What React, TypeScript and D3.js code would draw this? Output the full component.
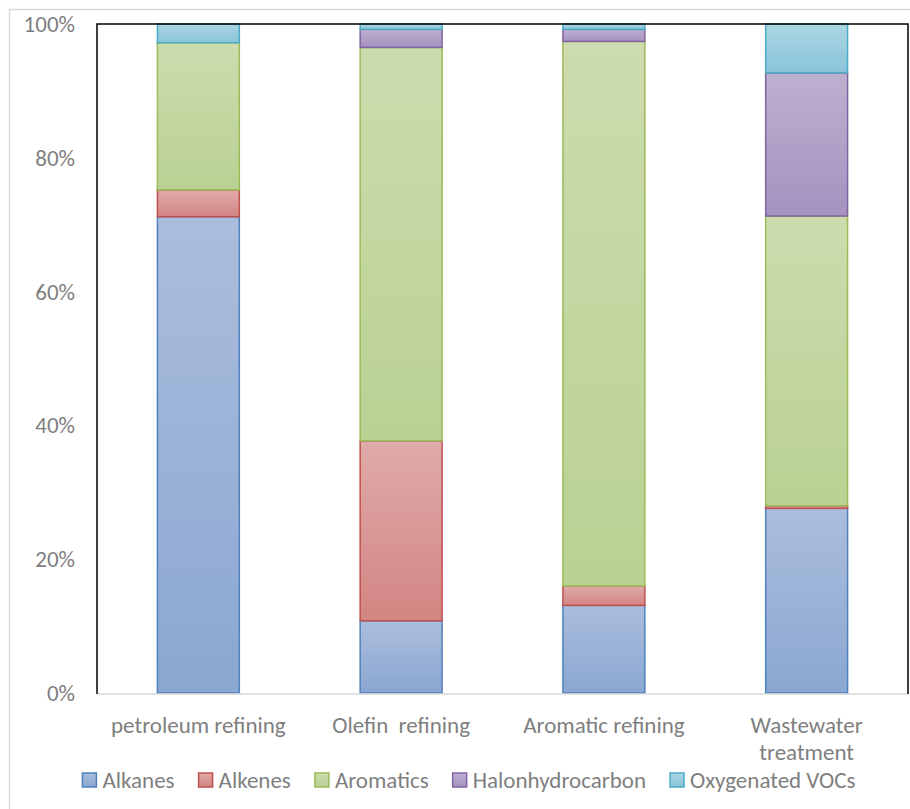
import React, { useEffect, useRef } from "react";
import * as d3 from "d3";

const categories = ["petroleum refining", "Olefin  refining", "Aromatic refining", "Wastewater\ntreatment"];
const seriesNames = ["Alkanes", "Alkenes", "Aromatics", "Halonhydrocarbon", "Oxygenated VOCs"];
const alkanes = [71.2, 10.8, 13.1, 27.6];
const alkenes = [4.0, 26.9, 2.9, 0.4];
const aromatics = [22.0, 58.8, 81.4, 43.3];
const halonhydrocarbon = [0, 2.7, 1.8, 21.4];
const oxygenatedVOCs = [2.8, 0.8, 0.8, 7.3];
const yTicks = [0, 0.2, 0.4, 0.6, 0.8, 1];

const strokes = ["#4f81bd", "#c0504d", "#9bbb59", "#8064a2", "#4bacc6"];
const gradTop = ["#abbddc", "#dfabaa", "#cddcae", "#bdb0cf", "#abd5e3"];
const gradBottom = ["#8aa7d2", "#d38583", "#b9d193", "#a592c0", "#89c4d9"];

const FONT = "Carlito, Calibri, Lato, sans-serif";
const FS = 23;
const TEXT = "#7f7f7f";

const App: React.FC = () => {
  const svgRef = useRef<SVGSVGElement | null>(null);

  useEffect(() => {
    document.body.style.margin = "0";
    const width = 910;
    const height = 809;
    const margin = { top: 24, right: 2, bottom: 116, left: 97 };

    d3.select(svgRef.current).selectAll("*").remove();
    const svg = d3.select(svgRef.current).attr("width", width).attr("height", height);

    svg.append("rect").attr("width", width).attr("height", height).attr("fill", "#fff");
    // outer chart border
    svg
      .append("rect")
      .attr("x", 9.5)
      .attr("y", 9.5)
      .attr("width", width + 20)
      .attr("height", height + 20)
      .attr("fill", "none")
      .attr("stroke", "#d9d9d9")
      .attr("stroke-width", 1.5);

    const defs = svg.append("defs");
    seriesNames.forEach((_, i) => {
      const g = defs
        .append("linearGradient")
        .attr("id", `grad${i}`)
        .attr("x1", 0)
        .attr("y1", 0)
        .attr("x2", 0)
        .attr("y2", 1);
      g.append("stop").attr("offset", "0%").attr("stop-color", gradTop[i]);
      g.append("stop").attr("offset", "100%").attr("stop-color", gradBottom[i]);
    });

    const rows = categories.map((c, i) => ({
      category: c,
      s0: alkanes[i],
      s1: alkenes[i],
      s2: aromatics[i],
      s3: halonhydrocarbon[i],
      s4: oxygenatedVOCs[i],
    }));
    const keys = ["s0", "s1", "s2", "s3", "s4"];
    const stacked = d3.stack<any>().keys(keys).offset(d3.stackOffsetExpand)(rows);

    const x = d3
      .scaleBand()
      .domain(categories)
      .range([margin.left, width - margin.right])
      .paddingInner(0.596)
      .paddingOuter(0.298);
    const y = d3
      .scaleLinear()
      .domain([0, 1])
      .range([height - margin.bottom, margin.top]);

    // bars
    stacked.forEach((layer, i) => {
      svg
        .append("g")
        .selectAll("rect")
        .data(layer.filter((d) => d[1] - d[0] > 0))
        .join("rect")
        .attr("x", (d) => x(d.data.category)!)
        .attr("width", x.bandwidth())
        .attr("y", (d) => y(d[1]))
        .attr("height", (d) => y(d[0]) - y(d[1]))
        .attr("fill", `url(#grad${i})`)
        .attr("stroke", strokes[i])
        .attr("stroke-width", 1.5);
    });

    // plot frame
    const x0 = margin.left;
    const x1 = width - margin.right;
    const yTop = y(1);
    const yBot = y(0);
    svg
      .append("line")
      .attr("x1", x0)
      .attr("x2", x1)
      .attr("y1", yBot + 1)
      .attr("y2", yBot + 1)
      .attr("stroke", "#d9d9d9")
      .attr("stroke-width", 1.5);
    svg
      .append("path")
      .attr("d", `M${x0},${yBot + 1}V${yTop}H${x1}V${yBot + 1}`)
      .attr("fill", "none")
      .attr("stroke", "#000")
      .attr("stroke-width", 1.5);

    // y axis labels
    svg
      .append("g")
      .selectAll("text")
      .data(yTicks)
      .join("text")
      .attr("x", 75)
      .attr("y", (d) => y(d))
      .attr("dy", "0.35em")
      .attr("text-anchor", "end")
      .attr("font-family", FONT)
      .attr("font-size", FS)
      .attr("fill", TEXT)
      .text((d) => d3.format(".0%")(d));

    // category labels
    const cat = svg
      .append("g")
      .selectAll("text")
      .data(categories)
      .join("text")
      .attr("x", (d) => x(d)! + x.bandwidth() / 2)
      .attr("y", yBot + 40)
      .attr("text-anchor", "middle")
      .attr("font-family", FONT)
      .attr("font-size", FS)
      .attr("fill", TEXT)
      .style("white-space", "pre");
    cat.each(function (d) {
      const t = d3.select(this);
      d.split("\n").forEach((line, k) => {
        t.append("tspan")
          .attr("x", x(d)! + x.bandwidth() / 2)
          .attr("dy", k === 0 ? 0 : 27)
          .text(line);
      });
    });

    // legend
    const legend = svg.append("g");
    const items = seriesNames.map((name, i) => {
      const g = legend.append("g");
      g.append("rect")
        .attr("width", 14)
        .attr("height", 14)
        .attr("y", -7)
        .attr("fill", `url(#grad${i})`)
        .attr("stroke", strokes[i])
        .attr("stroke-width", 1.5);
      const t = g
        .append("text")
        .attr("x", 20)
        .attr("dy", "0.35em")
        .attr("font-family", FONT)
        .attr("font-size", FS)
        .attr("fill", TEXT)
        .text(name);
      const w = (t.node() as SVGTextElement).getComputedTextLength();
      return { g, w: 20 + w };
    });
    const gap = 24;
    const total = d3.sum(items, (d) => d.w) + gap * (items.length - 1);
    let cx = 469 - total / 2;
    items.forEach((it) => {
      it.g.attr("transform", `translate(${cx},780)`);
      cx += it.w + gap;
    });
  }, []);

  return <svg ref={svgRef} style={{ display: "block" }}></svg>;
};

export default App;
